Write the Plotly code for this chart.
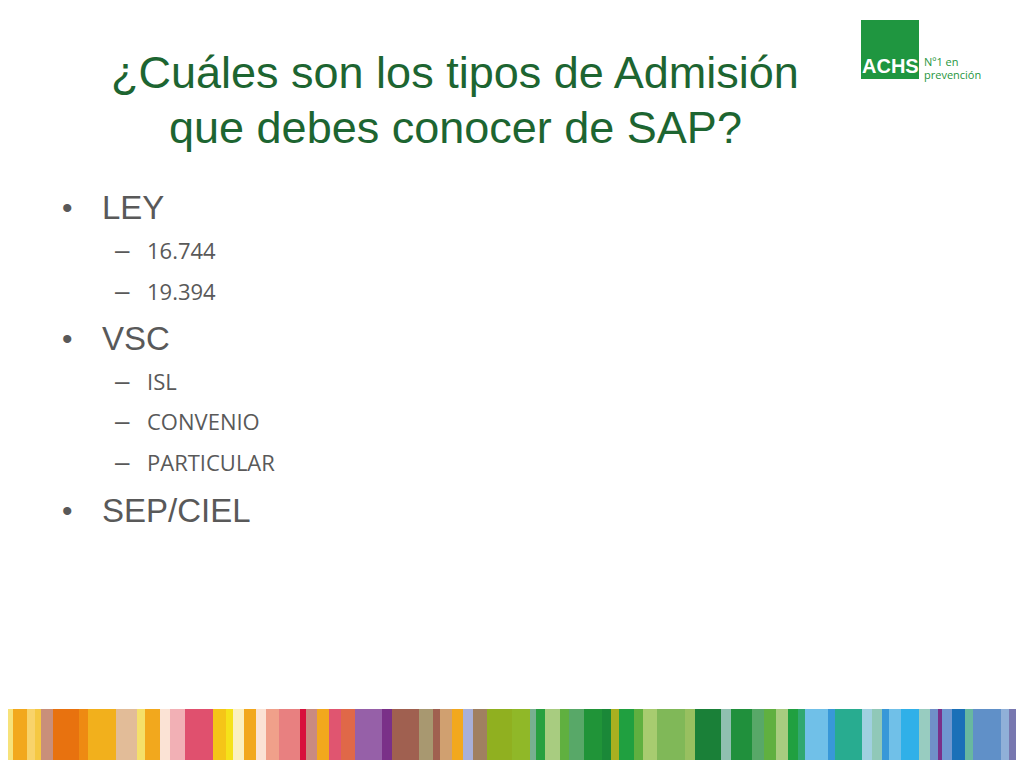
import plotly.graph_objects as go

# slide text
title_lines = ["¿Cuáles son los tipos de Admisión", "que debes conocer de SAP?"]
bullets = ["LEY", "VSC", "SEP/CIEL"]
bullet_y = [207, 338, 510]
sub_items = ["16.744", "19.394", "ISL", "CONVENIO", "PARTICULAR"]
sub_y = [250, 291, 381, 421, 462]

# bottom stripe band: left edges (px) and colours
stripe_edges = [0, 5, 13, 27, 35, 41, 53, 79, 88, 116, 137, 145, 160, 170, 185, 213, 226, 233, 244,
                256, 266, 279, 300, 306, 317, 329, 341, 355, 382, 392, 419, 433, 440, 452, 463, 473, 487,
                512, 530, 536, 545, 560, 569, 584, 602, 611, 619, 634, 643, 657, 685, 695, 721, 731, 752,
                764, 776, 788, 798, 805, 828, 835, 862, 872, 882, 889, 901, 919, 930, 938, 942, 952, 965,
                973, 1001, 1009, 1024]
stripe_colors = ["#f5c518", "#f7e27a", "#f2a81d", "#f8d36a", "#f5c842", "#c98f7a", "#e8720f", "#ee8a12",
                 "#f2b01c", "#e2bc98", "#f5e06a", "#f2a81d", "#fbe3d5", "#f2b0b5", "#e0506e", "#f5c518",
                 "#f5e21a", "#fbf0c0", "#f2a81d", "#fbe3d5", "#f0a08a", "#e88080", "#d8103c", "#c98a80",
                 "#f2a81d", "#e05570", "#e06848", "#9660a8", "#7a3088", "#a06050", "#a89870", "#a06050",
                 "#d0a070", "#f2a81d", "#a8b0d8", "#a08060", "#90b020",
                 "#90b828", "#78b090", "#28a040", "#a8cc80", "#60b040", "#58a868", "#209438", "#1a8838",
                 "#a8b020", "#20a040", "#60b040", "#a8cc70", "#80b858", "#98c060", "#1a8038", "#90c0b0",
                 "#20903c", "#58a868", "#60b040", "#a8cc80", "#20a040", "#30a870", "#70c0e8", "#3898d8",
                 "#28ac90", "#a0d0e0", "#90c8b8", "#3898d8", "#70c0e8", "#30b0e8", "#98ccc0", "#7090c8",
                 "#7a3088", "#7098d0", "#1a70b8", "#68b8a0", "#6090c8", "#90b0d8", "#7878b0"]

widths = [b - a for a, b in zip(stripe_edges[:-1], stripe_edges[1:])]
centers = [a + w / 2 for a, w in zip(stripe_edges[:-1], widths)]

fig = go.Figure()
fig.add_trace(go.Bar(x=centers, y=[59] * len(widths), base=709, width=widths,
                     marker=dict(color=stripe_colors, line_width=0), hoverinfo="skip"))

green = "#1d6531"
grey = "#595959"
for i, line in enumerate(title_lines):
    fig.add_annotation(x=455, y=[72, 127][i], text=line, showarrow=False,
                       font=dict(family="Liberation Sans, Arial", size=45, color=green))

for t, y in zip(bullets, bullet_y):
    fig.add_annotation(x=67, y=y, text="•", showarrow=False, xanchor="center",
                       font=dict(family="Liberation Sans, Arial", size=30, color=grey))
    fig.add_annotation(x=100, y=y, text=t, showarrow=False, xanchor="left",
                       font=dict(family="Liberation Sans, Arial", size=33, color=grey))

for t, y in zip(sub_items, sub_y):
    fig.add_annotation(x=122, y=y, text="–", showarrow=False, xanchor="center",
                       font=dict(family="Liberation Sans", size=26, color=grey))
    fig.add_annotation(x=145, y=y, text=t, showarrow=False, xanchor="left",
                       font=dict(family="Open Sans", size=22, color=grey))

# logo
fig.add_shape(type="rect", x0=861, x1=919, y0=20, y1=79, fillcolor="#1f9640", line_width=0)
fig.add_annotation(x=890, y=66, text="<b>ACHS</b>", showarrow=False,
                   font=dict(family="Liberation Sans", size=20, color="white"))
fig.add_annotation(x=922, y=61, text="Nº1 en", showarrow=False, xanchor="left",
                   font=dict(family="Open Sans", size=11, color="#1f9640"))
fig.add_annotation(x=922, y=74, text="prevención", showarrow=False, xanchor="left",
                   font=dict(family="Open Sans", size=11, color="#1f9640"))

fig.update_layout(width=1008, height=752, margin=dict(l=0, r=0, t=0, b=0),
                  paper_bgcolor="white", plot_bgcolor="white", showlegend=False, bargap=0,
                  xaxis=dict(range=[8, 1016], visible=False, fixedrange=True),
                  yaxis=dict(range=[760, 8], visible=False, fixedrange=True))
fig.write_html("out.html", config={"displayModeBar": False})
